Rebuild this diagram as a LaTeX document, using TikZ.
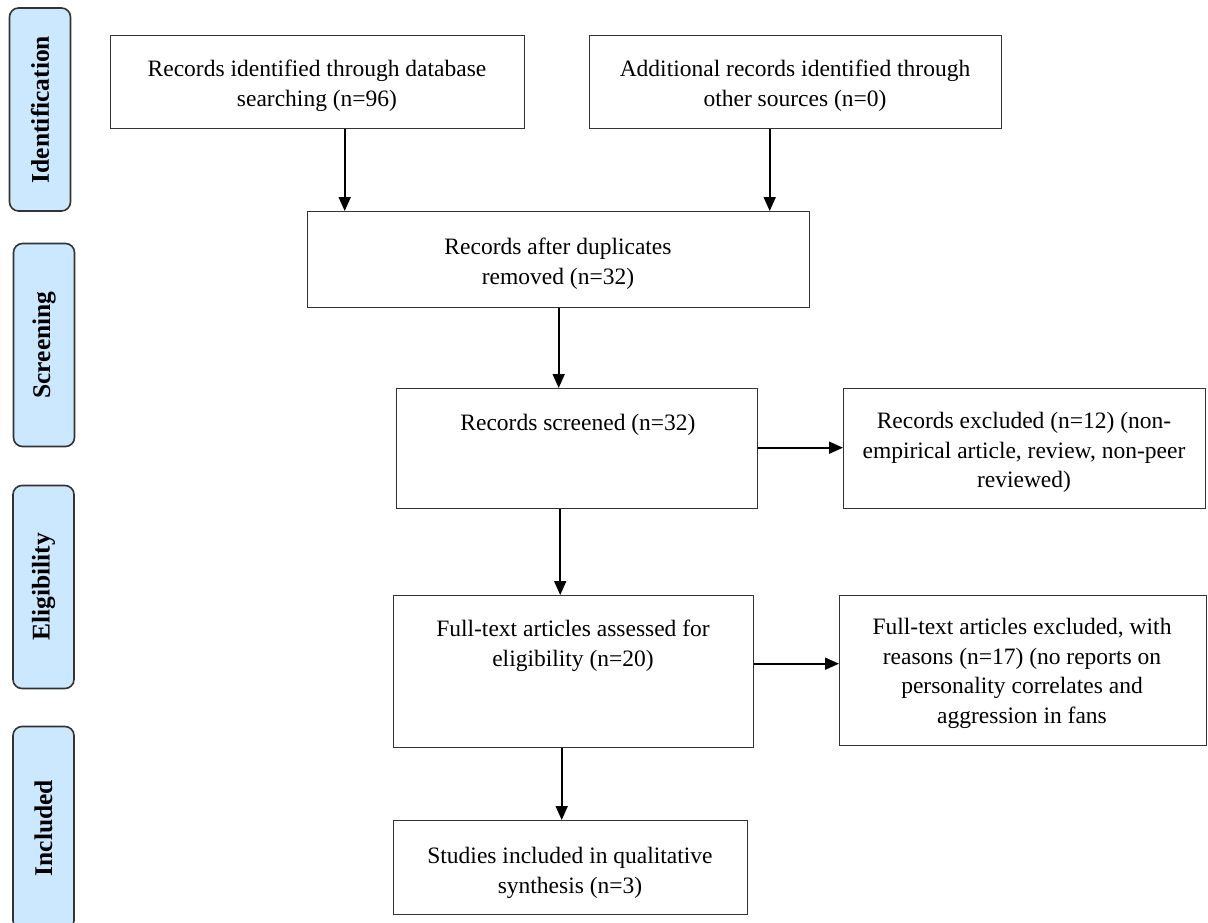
\documentclass[tikz,border=0pt]{standalone}
\usepackage{fontspec}
\setmainfont{Liberation Serif}
\usetikzlibrary{arrows.meta}
\definecolor{lab}{HTML}{CCE8FF}
\definecolor{edge}{HTML}{333333}
\begin{document}
\begin{tikzpicture}[x=1pt,y=-1pt,
 box/.style={draw=edge, line width=1.4pt, inner sep=0, anchor=north west},
 txt/.style={font=\fontsize{23.5}{29.5}\selectfont, align=center, anchor=north, inner sep=0},
 side/.style={draw=edge, fill=lab, line width=1.6pt, rounded corners=9pt, rotate=90, minimum width=203pt, minimum height=61pt, inner sep=0, font=\fontsize{25.5}{30}\selectfont\bfseries},
 arr/.style={line width=1.8pt, draw=black, -{Triangle[length=14pt,width=12pt]}}]
\useasboundingbox (0,0) rectangle (1208,923);
\begin{scope}
\clip (0,0) rectangle (1208,923);
\node[side] (s1) at (40,109.5) {Identification};
\node[side] (s2) at (44,345) {Screening};
\node[side] (s3) at (43.5,587) {Eligibility};
\node[side] (s4) at (43.5,828) {Included};
\end{scope}

\node[box, minimum width=414pt, minimum height=93pt] (b1) at (110,35) {};
\node[box, minimum width=412pt, minimum height=93pt] (b2) at (589,35) {};
\node[box, minimum width=502pt, minimum height=96pt] (b3) at (307,211) {};
\node[box, minimum width=361pt, minimum height=120pt] (b4) at (396,388) {};
\node[box, minimum width=362pt, minimum height=120pt] (b5) at (843,388) {};
\node[box, minimum width=360pt, minimum height=152pt] (b6) at (393,595) {};
\node[box, minimum width=367pt, minimum height=150pt] (b7) at (839,595) {};
\node[box, minimum width=354pt, minimum height=94pt] (b8) at (393,820) {};

\node[txt] (t1) at (317,60) {Records identified through database\\searching (n=96)};
\node[txt] (t2) at (795,60) {Additional records identified through\\other sources (n=0)};
\node[txt] (t3) at (558,238) {Records after duplicates\\removed (n=32)};
\node[txt] (t4) at (578,414) {Records screened (n=32)};
\node[txt] (t5) at (1024,412) {Records excluded (n=12) (non-\\empirical article, review, non-peer\\reviewed)};
\node[txt] (t6) at (573,620) {Full-text articles assessed for\\eligibility (n=20)};
\node[txt] (t7) at (1022,618) {Full-text articles excluded, with\\reasons (n=17) (no reports on\\personality correlates and\\aggression in fans};
\node[txt] (t8) at (570,847) {Studies included in qualitative\\synthesis (n=3)};

\draw[arr] ([xshift=27pt]b1.south) -- ([xshift=27pt]b1.south |- b3.north);
\draw[arr] ([xshift=-26pt]b2.south) -- ([xshift=-26pt]b2.south |- b3.north);
\draw[arr] (b3.south) -- (b3.south |- b4.north);
\draw[arr] ([yshift=1pt]b4.east) -- ([yshift=1pt]b4.east -| b5.west);
\draw[arr] ([xshift=-17pt]b4.south) -- ([xshift=-17pt]b4.south |- b6.north);
\draw[arr] ([yshift=8pt]b6.east) -- ([yshift=8pt]b6.east -| b7.west);
\draw[arr] ([xshift=-12pt]b6.south) -- ([xshift=-12pt]b6.south |- b8.north);
\end{tikzpicture}
\end{document}
